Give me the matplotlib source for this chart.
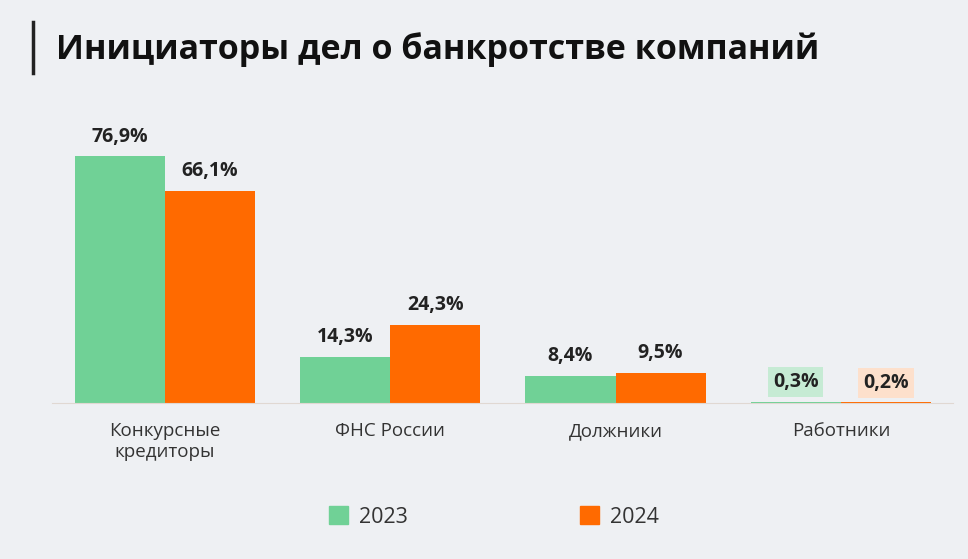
import matplotlib
matplotlib.use("Agg")
import matplotlib.pyplot as plt
import numpy as np

categories = ["Конкурсные\nкредиторы", "ФНС России", "Должники", "Работники"]
values_2023 = [76.9, 14.3, 8.4, 0.3]
values_2024 = [66.1, 24.3, 9.5, 0.2]
series = ["2023", "2024"]

GREEN = "#70d196"
ORANGE = "#ff6a00"
BG = "#eef0f3"

plt.rcParams["font.family"] = "Open Sans"

fig = plt.figure(figsize=(9.68, 5.59), dpi=100, facecolor=BG)
ax = fig.add_axes([0.054, 0.279, 0.931, 0.488], facecolor=BG)

x = np.arange(len(categories))
w = 0.4
b1 = ax.bar(x - w / 2, values_2023, w, color=GREEN)
b2 = ax.bar(x + w / 2, values_2024, w, color=ORANGE)

for bars, vals, col in ((b1, values_2023, "#c6ebd4"), (b2, values_2024, "#fde0cc")):
    for rect, v in zip(bars, vals):
        lbl = f"{v:.1f}%".replace(".", ",")
        kw = {}
        if v < 1:
            kw["bbox"] = dict(boxstyle="square,pad=0.25", fc=col, ec="none")
        ax.annotate(lbl, (rect.get_x() + rect.get_width() / 2, v),
                    xytext=(0, 7), textcoords="offset points",
                    ha="center", va="bottom", fontsize=14,
                    fontweight="bold", color="#222222", **kw)

ax.set_xlim(-0.5, 3.5)
ax.set_ylim(0, 85)
ax.set_yticks([])
ax.set_xticks(x)
ax.set_xticklabels(categories, fontsize=13.5, color="#333333")
ax.tick_params(axis="x", length=0, pad=14)
for s in ["top", "right", "left"]:
    ax.spines[s].set_visible(False)
ax.spines["bottom"].set_color("#e0d8d2")

fig.text(0.058, 0.912, "Инициаторы дел о банкротстве компаний",
         fontsize=24.5, fontweight="bold", color="#111111", va="center")
fig.add_artist(plt.Line2D([0.034, 0.034], [0.87, 0.96], color="#222222", lw=2.5))

handles = [plt.Rectangle((0, 0), 1, 1, color=c) for c in (GREEN, ORANGE)]
fig.legend(handles, series, loc="center", bbox_to_anchor=(0.51, 0.075),
           ncol=2, frameon=False, fontsize=15.5, handlelength=0.9,
           handleheight=0.9, columnspacing=8, handletextpad=0.5,
           labelcolor="#333333")

fig.savefig("out.png", dpi=100, facecolor=BG)
